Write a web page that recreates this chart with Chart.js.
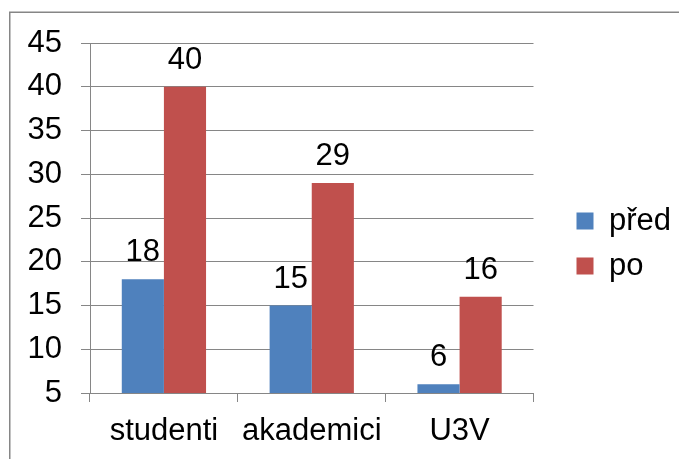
<!DOCTYPE html>
<html>
<head>
<meta charset="utf-8">
<script src="https://cdn.jsdelivr.net/npm/chart.js@4"></script>
<style>
  html, body { margin: 0; padding: 0; background: #fff; }
  #wrap { width: 679px; height: 459px; }
</style>
</head>
<body>
<div id="wrap"><canvas id="graf"></canvas></div>
<script>
const kategorie = ['studenti', 'akademici', 'U3V'];
const pred = [18, 15, 6];
const po = [40, 29, 16];
const osaY = { min: 5, max: 45, krok: 5 };

const modra = '#4F81BD';
const cervena = '#C0504D';
const mrizka = '#868686';
const pismo = 'Liberation Sans, Arial, sans-serif';
const velikost = 31;

// rámeček kolem celého grafu
const ramecek = {
  id: 'ramecek',
  beforeDraw: (chart) => {
    const ctx = chart.ctx;
    ctx.save();
    ctx.strokeStyle = mrizka;
    ctx.lineWidth = 1.5;
    ctx.strokeRect(9.75, 12.25, 900, 900);
    ctx.restore();
  },
};

// hodnoty nad sloupci
const popisky = {
  id: 'popisky',
  afterDatasetsDraw: (chart) => {
    const ctx = chart.ctx;
    ctx.save();
    ctx.font = `${velikost}px ${pismo}`;
    ctx.fillStyle = '#000';
    ctx.textAlign = 'center';
    ctx.textBaseline = 'alphabetic';
    chart.data.datasets.forEach((ds, i) => {
      chart.getDatasetMeta(i).data.forEach((bar, j) => {
        ctx.fillText(String(ds.data[j]), bar.x, bar.y - 18);
      });
    });
    ctx.restore();
  },
};

new Chart(document.getElementById('graf'), {
  type: 'bar',
  data: {
    labels: kategorie,
    datasets: [
      { label: 'před', data: pred, backgroundColor: modra, borderWidth: 0 },
      { label: 'po', data: po, backgroundColor: cervena, borderWidth: 0 },
    ],
  },
  options: {
    responsive: true,
    maintainAspectRatio: false,
    animation: false,
    datasets: {
      bar: { barPercentage: 1, categoryPercentage: 0.57 },
    },
    layout: {
      padding: { top: 43, right: 6, bottom: 15, left: 10 },
    },
    scales: {
      x: {
        grid: {
          offset: true,
          drawOnChartArea: false,
          drawTicks: true,
          tickLength: 9,
          color: mrizka,
        },
        border: { color: mrizka },
        ticks: {
          font: { family: pismo, size: velikost },
          color: '#000',
          padding: 11,
          maxRotation: 0,
        },
        afterFit: (s) => { s.height = 51; },
      },
      y: {
        min: osaY.min,
        max: osaY.max,
        grid: { color: mrizka, tickLength: 9 },
        border: { color: mrizka },
        ticks: {
          stepSize: osaY.krok,
          font: { family: pismo, size: velikost },
          color: '#000',
          padding: 19,
        },
        afterFit: (s) => { s.width = 80; },
      },
      // prázdné místo mezi grafem a legendou
      mezera: {
        type: 'linear',
        position: 'right',
        display: true,
        grid: { display: false },
        border: { display: false },
        ticks: { display: false },
        afterFit: (s) => { s.width = 29; },
      },
    },
    plugins: {
      legend: {
        position: 'right',
        align: 'center',
        labels: {
          boxWidth: 17,
          boxHeight: 17,
          padding: 14,
          color: '#000',
          font: { family: pismo, size: velikost },
        },
      },
      tooltip: { enabled: false },
    },
  },
  plugins: [ramecek, popisky],
});
</script>
</body>
</html>
